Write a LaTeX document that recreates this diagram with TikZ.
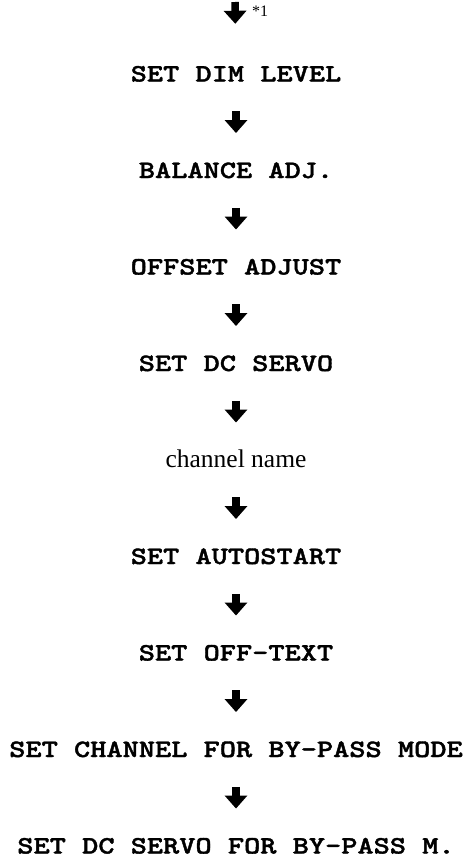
\documentclass[tikz,border=0pt]{standalone}
\usepackage{fontspec}
\setmainfont{Liberation Serif}
\newfontfamily\stepfont{lmmonolt10-bold.otf}[FakeStretch=1.234, FakeBold=1.6]
\usepackage{tikz}
\usetikzlibrary{arrows.meta}
\tikzset{step label/.style={inner sep=0pt, text height=15pt, text depth=0pt,
  font=\fontsize{25}{25}\stepfont},
  name label/.style={inner sep=0pt, text height=15pt, text depth=0pt,
  font=\fontsize{25.5}{25.5}\selectfont},
  flow/.style={line width=7.5pt, -{Triangle[width=22pt,length=13pt]},
  shorten <=29.75pt, shorten >=29.75pt}}

\begin{document}
\begin{tikzpicture}[x=1pt,y=1pt]
\useasboundingbox (0,0) rectangle (467,-868);

\coordinate (start) at (235,-2);
\node[font=\fontsize{16}{16}\selectfont, anchor=west, inner sep=0pt] (note) at (252,-11) {*1};

\node[step label] (dim) at (236,-74) {SET DIM LEVEL};
\node[step label] (bal) at (236,-170.5) {BALANCE ADJ.};
\node[step label] (off) at (236,-267) {OFFSET ADJUST};
\node[step label] (servo) at (236,-363.5) {SET DC SERVO};
\node[name label] (chan) at (236,-460) {channel name};
\node[step label] (auto) at (236,-556.5) {SET AUTOSTART};
\node[step label] (otext) at (236,-653) {SET OFF-TEXT};
\node[step label] (bypass) at (236,-749.5) {SET CHANNEL FOR BY-PASS MODE};
\node[step label] (bpservo) at (236,-846) {SET DC SERVO FOR BY-PASS M.};

\draw[flow, shorten <=0pt, shorten >=42.5pt] (start) -- (dim);
\draw[flow] (dim) -- (bal);
\draw[flow] (bal) -- (off);
\draw[flow] (off) -- (servo);
\draw[flow] (servo) -- (chan);
\draw[flow] (chan) -- (auto);
\draw[flow] (auto) -- (otext);
\draw[flow] (otext) -- (bypass);
\draw[flow] (bypass) -- (bpservo);
\end{tikzpicture}
\end{document}
